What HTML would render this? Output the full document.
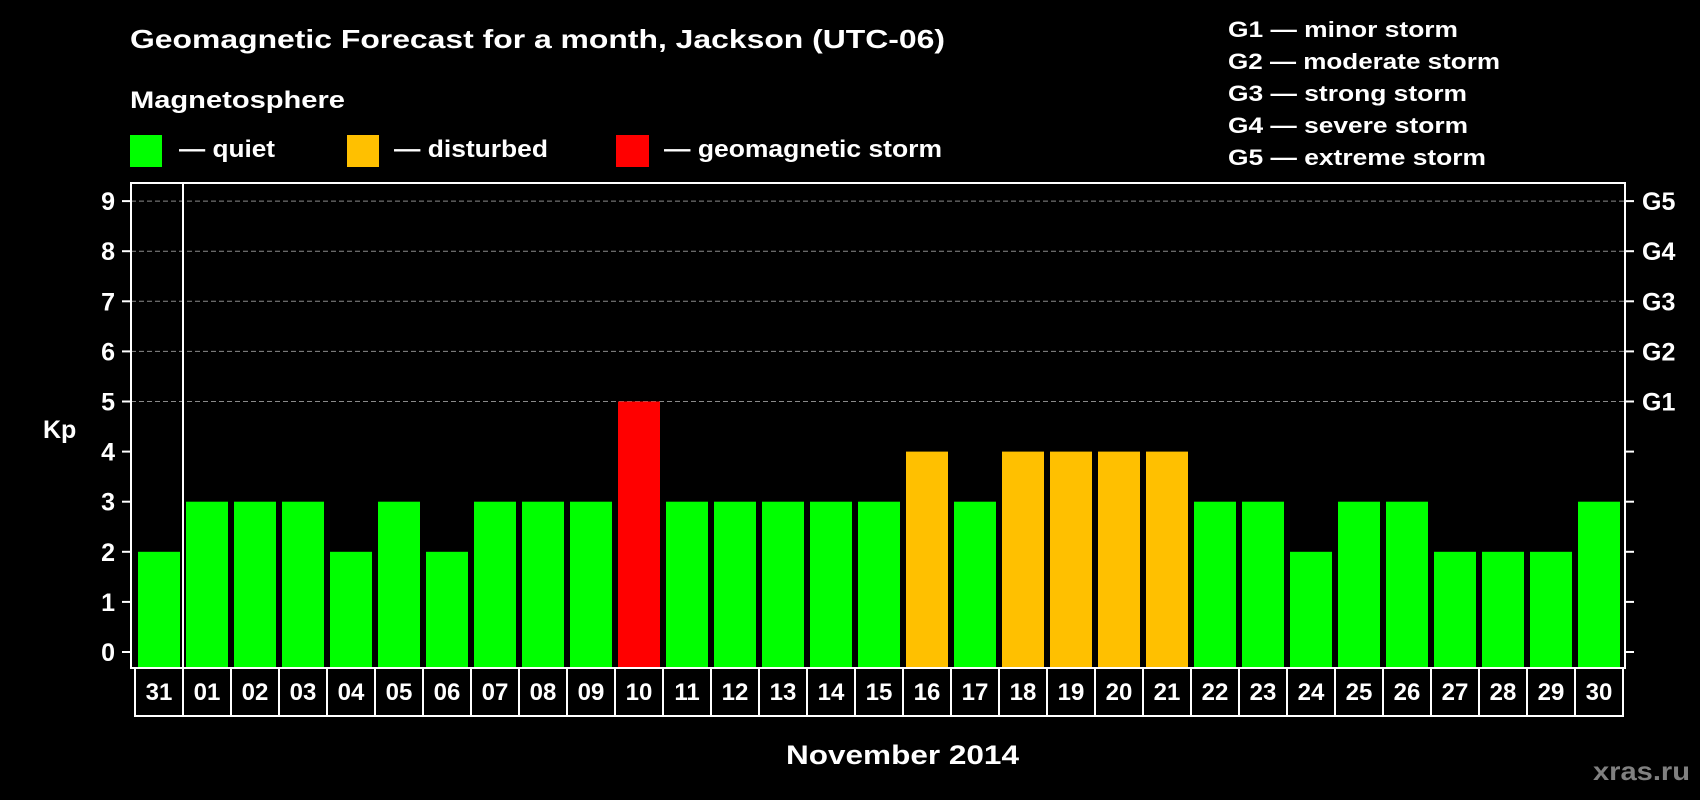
<!DOCTYPE html>
<html><head><meta charset="utf-8"><style>
html,body{margin:0;padding:0;background:#000;}
svg{display:block;font-family:"Liberation Sans",Arial,sans-serif;font-weight:bold;}
</style></head><body>
<svg id="chart" width="1700" height="800" viewBox="0 0 1700 800" xmlns="http://www.w3.org/2000/svg">
<rect x="0" y="0" width="1700" height="800" fill="#000"/>
<text x="130" y="48" fill="#fff" font-size="26" textLength="815" lengthAdjust="spacingAndGlyphs">Geomagnetic Forecast for a month, Jackson (UTC-06)</text>
<text x="130" y="108" fill="#fff" font-size="24" textLength="215" lengthAdjust="spacingAndGlyphs">Magnetosphere</text>
<g>
<rect x="130" y="135" width="32" height="32" fill="#00ff00"/>
<text x="179" y="157" fill="#fff" font-size="24" textLength="96" lengthAdjust="spacingAndGlyphs">— quiet</text>
</g>
<g>
<rect x="347" y="135" width="32" height="32" fill="#ffc000"/>
<text x="394" y="157" fill="#fff" font-size="24" textLength="154" lengthAdjust="spacingAndGlyphs">— disturbed</text>
</g>
<g>
<rect x="616" y="135" width="33" height="32" fill="#ff0000"/>
<text x="664" y="157" fill="#fff" font-size="24" textLength="278" lengthAdjust="spacingAndGlyphs">— geomagnetic storm</text>
</g>
<g fill="#fff" font-size="22">
<text x="1228" y="37" textLength="230" lengthAdjust="spacingAndGlyphs">G1 — minor storm</text>
<text x="1228" y="69" textLength="272" lengthAdjust="spacingAndGlyphs">G2 — moderate storm</text>
<text x="1228" y="101" textLength="239" lengthAdjust="spacingAndGlyphs">G3 — strong storm</text>
<text x="1228" y="133" textLength="240" lengthAdjust="spacingAndGlyphs">G4 — severe storm</text>
<text x="1228" y="165" textLength="258" lengthAdjust="spacingAndGlyphs">G5 — extreme storm</text>
</g>
<g id="grid"></g>
<g id="bars"></g>
<g id="axes"></g>
<text x="43" y="438" fill="#fff" font-size="25">Kp</text>
<text x="786" y="764" fill="#fff" font-size="27" textLength="233" lengthAdjust="spacingAndGlyphs">November 2014</text>
<text x="1593" y="780" fill="#808080" font-size="26" textLength="97" lengthAdjust="spacingAndGlyphs">xras.ru</text>
</svg>
<script>
const days = ["31","01","02","03","04","05","06","07","08","09","10","11","12","13","14","15","16","17","18","19","20","21","22","23","24","25","26","27","28","29","30"];
const kp = [2,3,3,3,2,3,2,3,3,3,5,3,3,3,3,3,4,3,4,4,4,4,3,3,2,3,3,2,2,2,3];
const yTicks = [0,1,2,3,4,5,6,7,7,8,9].filter((v,i,a)=>a.indexOf(v)===i);
const gLabels = ["G1","G2","G3","G4","G5"];
const gLevels = [5,6,7,8,9];

const NS="http://www.w3.org/2000/svg";
const plotL=131, plotR=1625, plotT=183, plotB=668;
const y0=652, unit=50.1;
const step=48, barStart=138, barW=42;
function yS(v){return y0 - v*unit;}
function xS(i){return barStart + i*step;}
function colorFor(v){return v>=5?"#ff0000":(v>=4?"#ffc000":"#00ff00");}
function mk(tag,attrs,parent){const e=document.createElementNS(NS,tag);for(const k in attrs)e.setAttribute(k,attrs[k]);parent.appendChild(e);return e;}

const grid=document.getElementById("grid"), bars=document.getElementById("bars"), axes=document.getElementById("axes");
gLevels.forEach((v,i)=>{
  const l=mk("line",{x1:plotL,x2:plotR,y1:yS(v),y2:yS(v),stroke:"#8a8a8a","stroke-width":1,"stroke-dasharray":"5,3"},grid);
  
  
});
kp.forEach((v,i)=>{
  const r=mk("rect",{x:xS(i),y:yS(v),width:barW,height:plotB-yS(v),fill:colorFor(v)},bars);
  
  
});
// frame
const fr=mk("rect",{x:plotL,y:plotT,width:plotR-plotL,height:plotB-plotT,fill:"none",stroke:"#fff","stroke-width":2},axes);


// label cells
const cellL=135, cellB=716;
const cb=mk("path",{d:`M${cellL},${plotB} V${cellB} H${plotR-2} V${plotB}`,fill:"none",stroke:"#fff","stroke-width":2},axes);


days.forEach((d,i)=>{
  if(i>0){
    const x=cellL+i*step;
    const ln=mk("line",{x1:x,x2:x,y1:(i===1?plotT:plotB),y2:cellB,stroke:"#fff","stroke-width":2},axes);
    
    
  }
  const t=mk("text",{x:cellL+i*step+24,y:700,fill:"#fff","font-size":24,"text-anchor":"middle"},axes);
  t.textContent=d;
  
  
});
yTicks.forEach(v=>{
  const tl=mk("line",{x1:122,x2:plotL,y1:yS(v),y2:yS(v),stroke:"#fff","stroke-width":2},axes);
  
  
  const tr=mk("line",{x1:plotR,x2:plotR+9,y1:yS(v),y2:yS(v),stroke:"#fff","stroke-width":2},axes);
  
  
  const t=mk("text",{x:115,y:yS(v)+9,fill:"#fff","font-size":25,"text-anchor":"end"},axes);
  t.textContent=String(v);
  
  
});
gLevels.forEach((v,i)=>{
  const t=mk("text",{x:1642,y:yS(v)+9,fill:"#fff","font-size":25},axes);
  t.textContent=gLabels[i];
  
  
});
</script>
</body></html>
